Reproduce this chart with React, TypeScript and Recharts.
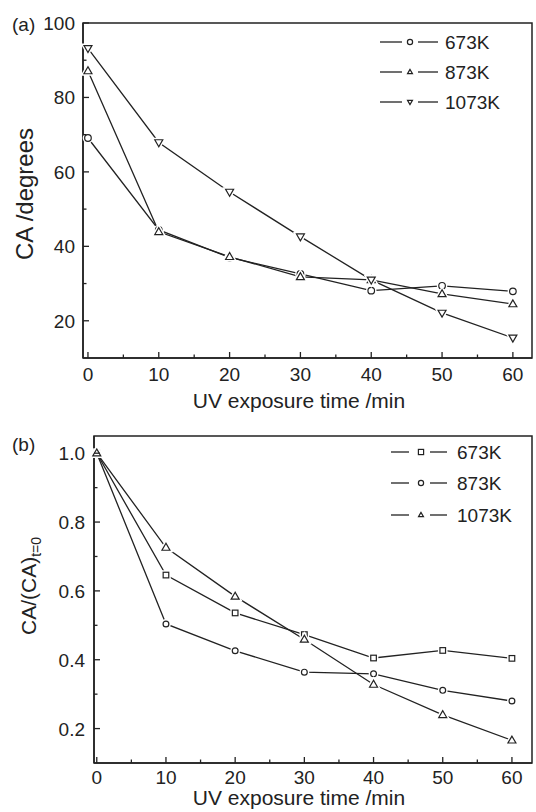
import React from 'react';
import { LineChart, Line, XAxis, YAxis, ReferenceArea, Legend } from 'recharts';

// exposure time (min)
const timeMin = [0, 10, 20, 30, 40, 50, 60];

// (a) contact angle, degrees
const caA673 = [69.1, 44.4, 37.0, 32.6, 28.1, 29.4, 27.9];
const caA873 = [87.1, 43.9, 37.2, 31.8, 31.0, 27.2, 24.5];
const caA1073 = [93.2, 67.9, 54.6, 42.6, 31.0, 22.1, 15.4];

// (b) normalised CA/(CA)t=0
const ratioB673 = [1.0, 0.646, 0.536, 0.473, 0.405, 0.427, 0.404];
const ratioB873 = [1.0, 0.504, 0.426, 0.364, 0.359, 0.311, 0.28];
const ratioB1073 = [1.0, 0.726, 0.584, 0.459, 0.328, 0.24, 0.166];

const seriesNames = ['673K', '873K', '1073K'];

const xTicks = [0, 5, 10, 15, 20, 25, 30, 35, 40, 45, 50, 55, 60];
const yTicksA = [20, 30, 40, 50, 60, 70, 80, 90, 100];
const yTicksB = [0.2, 0.3, 0.4, 0.5, 0.6, 0.7, 0.8, 0.9, 1.0];

const FONT = '"Liberation Sans", Arial, sans-serif';
const INK = '#222';

const dataA = timeMin.map((t, i) => ({ t, s673: caA673[i], s873: caA873[i], s1073: caA1073[i] }));
const dataB = timeMin.map((t, i) => ({ t, s673: ratioB673[i], s873: ratioB873[i], s1073: ratioB1073[i] }));

type Shape = 'circle' | 'square' | 'up' | 'down';

function MarkShape({ shape, cx, cy, s, ...rest }: any) {
  if (shape === 'circle') return <circle cx={cx} cy={cy} r={s} {...rest} />;
  if (shape === 'square') return <rect x={cx - s} y={cy - s} width={s * 2} height={s * 2} {...rest} />;
  const d =
    shape === 'up'
      ? `M${cx},${cy - s} L${cx - s * 0.95},${cy + s * 0.65} L${cx + s * 0.95},${cy + s * 0.65} Z`
      : `M${cx},${cy + s} L${cx - s * 0.95},${cy - s * 0.65} L${cx + s * 0.95},${cy - s * 0.65} Z`;
  return <path d={d} {...rest} />;
}

function Marker({ shape, cx, cy, s }: { shape: Shape; cx: number; cy: number; s: number }) {
  return (
    <g>
      <MarkShape shape={shape} cx={cx} cy={cy} s={s} fill="#fff" stroke="#fff" strokeWidth={4} />
      <MarkShape shape={shape} cx={cx} cy={cy} s={s} fill="#fff" stroke={INK} strokeWidth={1.2} />
    </g>
  );
}

const dotFor = (shape: Shape, s: number) => (p: any) => (
  <Marker key={`${shape}-${p.index}`} shape={shape} cx={p.cx} cy={p.cy} s={s} />
);

function XTick({ x, y, payload, below }: any) {
  const v = payload.value;
  const major = v % 10 === 0;
  return (
    <g>
      <line x1={x} x2={x} y1={y} y2={y - (major ? 6 : 3.5)} stroke={INK} strokeWidth={1.3} />
      {major && (
        <text x={x} y={y + below} textAnchor="middle" fontFamily={FONT} fontSize={19} fill={INK}>
          {v}
        </text>
      )}
    </g>
  );
}

function YTick({ x, y, payload, step, digits, gap }: any) {
  const v = payload.value;
  const major = Math.round(v / step) % 2 === 0;
  return (
    <g>
      <line x1={x} x2={x + (major ? 6 : 3.5)} y1={y} y2={y} stroke={INK} strokeWidth={1.3} />
      {major && (
        <text x={x - gap} y={y + 7} textAnchor="end" fontFamily={FONT} fontSize={19} fill={INK}>
          {v.toFixed(digits)}
        </text>
      )}
    </g>
  );
}

function KeyRows({ payload, shapes, rowY, segs }: any) {
  const items = [...(payload || [])].sort(
    (a: any, b: any) => seriesNames.indexOf(a.value) - seriesNames.indexOf(b.value)
  );
  return (
    <svg width={160} height={110} style={{ overflow: 'visible' }}>
      {items.map((e: any, i: number) => {
        const y = rowY[i];
        return (
          <g key={e.value}>
            <line x1={segs[0]} x2={segs[1]} y1={y} y2={y} stroke={INK} strokeWidth={1.3} />
            <Marker shape={shapes[e.dataKey]} cx={segs[2]} cy={y} s={2.6} />
            <line x1={segs[3]} x2={segs[4]} y1={y} y2={y} stroke={INK} strokeWidth={1.3} />
            <text x={segs[5]} y={y + 7} fontFamily={FONT} fontSize={19} fill={INK}>
              {e.value}
            </text>
          </g>
        );
      })}
    </svg>
  );
}

const shapesA: Record<string, Shape> = { s673: 'circle', s873: 'up', s1073: 'down' };
const shapesB: Record<string, Shape> = { s673: 'square', s873: 'circle', s1073: 'up' };

function PanelA() {
  return (
    <LineChart width={536} height={412} data={dataA} margin={{ top: 23, right: 4, left: 0, bottom: 0 }}>
      <XAxis
        dataKey="t"
        type="number"
        domain={[-0.7, 62.7]}
        ticks={xTicks}
        interval={0}
        height={54}
        tickSize={0}
        tickMargin={0}
        tickLine={false}
        axisLine={{ stroke: INK, strokeWidth: 1.5 }}
        tick={<XTick below={23} />}
        label={{
          content: () => (
            <text x={299} y={408} textAnchor="middle" fontFamily={FONT} fontSize={21} fill={INK}>
              UV exposure time /min
            </text>
          ),
        }}
      />
      <YAxis
        type="number"
        domain={[10, 100]}
        ticks={yTicksA}
        interval={0}
        width={83}
        tickSize={0}
        tickMargin={0}
        tickLine={false}
        axisLine={{ stroke: INK, strokeWidth: 1.5 }}
        tick={<YTick step={10} digits={0} gap={8} />}
        label={{
          content: () => (
            <g>
              <text x={12} y={31} fontFamily={FONT} fontSize={19} fill={INK}>
                (a)
              </text>
              <text
                transform="translate(33,194) rotate(-90)"
                textAnchor="middle"
                fontFamily={FONT}
                fontSize={24}
                fill={INK}
              >
                CA /degrees
              </text>
            </g>
          ),
        }}
      />
      <ReferenceArea x1={-0.7} x2={62.7} y1={10} y2={100} fill="none" stroke={INK} strokeWidth={1.5} />
      <Legend
        layout="vertical"
        align="center"
        verticalAlign="middle"
        wrapperStyle={{ position: 'absolute', left: 375, top: 26, width: 160, height: 110 }}
        content={(p: any) => (
          <KeyRows payload={p.payload} shapes={shapesA} rowY={[16, 46, 76]} segs={[5, 27, 35, 43, 63, 70]} />
        )}
      />
      <Line dataKey="s673" name={seriesNames[0]} stroke={INK} strokeWidth={1.3} dot={dotFor('circle', 3.3)} isAnimationActive={false} />
      <Line dataKey="s873" name={seriesNames[1]} stroke={INK} strokeWidth={1.3} dot={dotFor('up', 4.2)} isAnimationActive={false} />
      <Line dataKey="s1073" name={seriesNames[2]} stroke={INK} strokeWidth={1.3} dot={dotFor('down', 4.2)} isAnimationActive={false} />
    </LineChart>
  );
}

function PanelB() {
  return (
    <LineChart width={536} height={400} data={dataB} margin={{ top: 24, right: 4, left: 0, bottom: 0 }}>
      <XAxis
        dataKey="t"
        type="number"
        domain={[-0.4, 62.9]}
        ticks={xTicks}
        interval={0}
        height={49}
        tickSize={0}
        tickMargin={0}
        tickLine={false}
        axisLine={{ stroke: INK, strokeWidth: 1.5 }}
        tick={<XTick below={21} />}
        label={{
          content: () => (
            <text x={299} y={393} textAnchor="middle" fontFamily={FONT} fontSize={21} fill={INK}>
              UV exposure time /min
            </text>
          ),
        }}
      />
      <YAxis
        type="number"
        domain={[0.1, 1.05]}
        ticks={yTicksB}
        interval={0}
        width={94}
        tickSize={0}
        tickMargin={0}
        tickLine={false}
        axisLine={{ stroke: INK, strokeWidth: 1.5 }}
        tick={<YTick step={0.1} digits={1} gap={9} />}
        label={{
          content: () => (
            <g>
              <text x={12} y={39} fontFamily={FONT} fontSize={19} fill={INK}>
                (b)
              </text>
              <text
                transform="translate(36,174) rotate(-90)"
                textAnchor="middle"
                fontFamily={FONT}
                fontSize={21}
                fill={INK}
              >
                CA/(CA)
                <tspan fontSize={14} dy={5}>
                  t=0
                </tspan>
              </text>
            </g>
          ),
        }}
      />
      <ReferenceArea x1={-0.4} x2={62.9} y1={0.1} y2={1.05} fill="none" stroke={INK} strokeWidth={1.5} />
      <Legend
        layout="vertical"
        align="center"
        verticalAlign="middle"
        wrapperStyle={{ position: 'absolute', left: 385, top: 24, width: 160, height: 110 }}
        content={(p: any) => (
          <KeyRows payload={p.payload} shapes={shapesB} rowY={[16, 47, 79]} segs={[6, 24, 36, 45, 62, 72]} />
        )}
      />
      <Line dataKey="s673" name={seriesNames[0]} stroke={INK} strokeWidth={1.3} dot={dotFor('square', 2.8)} isAnimationActive={false} />
      <Line dataKey="s873" name={seriesNames[1]} stroke={INK} strokeWidth={1.3} dot={dotFor('circle', 2.9)} isAnimationActive={false} />
      <Line dataKey="s1073" name={seriesNames[2]} stroke={INK} strokeWidth={1.3} dot={dotFor('up', 4.2)} isAnimationActive={false} />
    </LineChart>
  );
}

export default function App() {
  return (
    <div style={{ position: 'relative', width: 536, height: 812, background: '#fff' }}>
      <style>{'body{margin:0}'}</style>
      <div style={{ position: 'absolute', left: 0, top: 0 }}>
        <PanelA />
      </div>
      <div style={{ position: 'absolute', left: 0, top: 412 }}>
        <PanelB />
      </div>
    </div>
  );
}
